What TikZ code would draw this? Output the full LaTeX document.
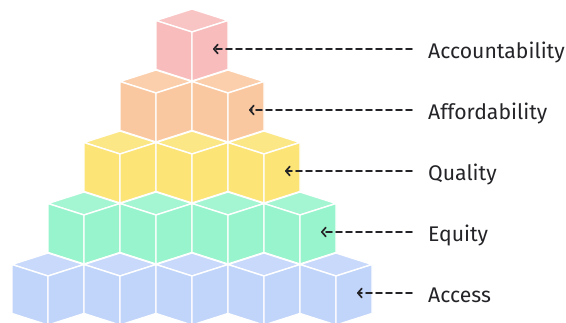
\documentclass[tikz,border=0pt]{standalone}
\usepackage{fontspec}
\setmainfont{Fira Sans}
\usetikzlibrary{arrows.meta}

\definecolor{cubepink}{RGB}{248,188,188}
\definecolor{cubeorange}{RGB}{250,200,160}
\definecolor{cubeyellow}{RGB}{252,228,118}
\definecolor{cubegreen}{RGB}{152,244,204}
\definecolor{cubeblue}{RGB}{193,212,250}
\definecolor{inkdark}{RGB}{36,36,40}

\tikzset{
  seam/.style={draw=white, line width=1.4pt, line join=round},
  guide/.style={draw=inkdark, line width=1.7pt, dash pattern=on 6pt off 4pt,
    line cap=round, -{Straight Barb[length=4pt,width=9pt,line cap=round,line join=round]}},
  tierlabel/.style={anchor=base west, inner sep=0pt, text=inkdark,
    font=\fontsize{21.2}{23}\selectfont}
}

% one cube: #1 = name, #2 = x of the front edge, #3 = y of the top vertex, #4 = colour
\newcommand\pyrcube[4]{%
  \begin{scope}[shift={(#2,#3)}]
    \coordinate (#1) at (0,0);
    \path[seam, fill=#4!88!white] (0,0) -- (36,11.5) -- (0,23) -- (-36,11.5) -- cycle;
    \path[seam, fill=#4] (-36,11.5) -- (0,23) -- (0,72) -- (-36,60.5) -- cycle;
    \path[seam, fill=#4] (36,11.5) -- (0,23) -- (0,72) -- (36,60.5) -- cycle;
  \end{scope}}

\begin{document}
\begin{tikzpicture}[x=1pt, y=-1pt]
  \useasboundingbox (0,0) rectangle (566,322);

  % tiers, back (top) to front (bottom)
  \foreach \k/\col in {4/cubepink, 3/cubeorange, 2/cubeyellow, 1/cubegreen, 0/cubeblue} {
    \pgfmathtruncatemacro\last{4-\k}
    \foreach \i in {0,...,\last} {
      \pgfmathsetmacro\cx{48 + 72*\i + 36*\k}
      \pgfmathsetmacro\ty{9 + (4-\k)*61}
      \pyrcube{cube-\k-\i}{\cx}{\ty}{\col}
    }
  }

  % labels with their pointers
  \foreach \k/\txt in {4/Accountability, 3/Affordability, 2/Quality, 1/Equity, 0/Access} {
    \pgfmathsetmacro\ay{9 + (4-\k)*61 + 40}
    \pgfmathsetmacro\tx{48 + 72*(4-\k) + 36*\k + 21}
    \coordinate (tip-\k) at (\tx, \ay);
    \coordinate (tail-\k) at (412, \ay);
    \node[tierlabel] (label-\k) at (428, \ay+9) {\txt};
    \draw[guide] (tail-\k) -- (tip-\k);
  }
\end{tikzpicture}
\end{document}
